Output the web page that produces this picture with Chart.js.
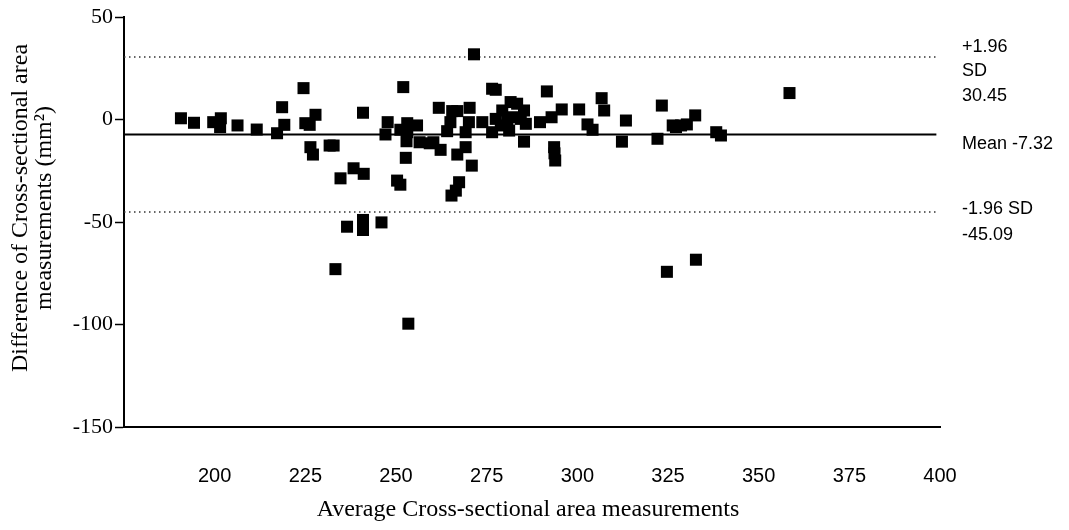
<!DOCTYPE html>
<html>
<head>
<meta charset="utf-8">
<script src="https://cdn.jsdelivr.net/npm/chart.js@4.4.1/dist/chart.umd.min.js"></script>
<style>
  html, body { margin: 0; padding: 0; background: #fff; }
  #wrap { width: 1069px; height: 530px; position: relative; }
</style>
</head>
<body>
<div id="wrap"><canvas id="chart-bland"></canvas></div>
<script>
// --- Data ---
const avgValues = [
  190.7, 194.3, 199.6, 201.7, 201.5, 206.3, 211.6, 217.2, 218.6, 219.2,
  224.5, 227.8, 225.0, 226.2, 226.4, 227.1, 231.7, 232.8, 234.7, 238.3,
  240.9, 241.1, 247.7, 247.1, 252.0, 250.3, 251.2, 252.7, 251.2, 253.1,
  252.9, 255.8, 256.5, 253.1, 259.3, 260.3, 262.3, 261.8, 265.5, 266.9,
  264.1, 265.0, 266.9, 267.4, 265.3, 266.5, 269.2, 270.9, 270.3, 269.2,
  270.1, 271.5, 273.8, 276.5, 277.5, 276.5, 279.3, 281.6, 283.4, 285.3,
  280.7, 282.5, 284.4, 285.8, 281.2, 278.9, 277.5, 285.3, 289.7, 291.6,
  292.9, 295.7, 293.6, 293.9, 293.7, 300.5, 306.7, 307.4, 302.8, 304.2,
  313.4, 312.3, 323.3, 322.1, 326.3, 327.2, 328.6, 330.2, 332.5, 338.3,
  339.6, 358.5, 236.5, 240.9, 240.9, 246.0, 233.3, 253.4, 332.7, 324.7
];
const diffValues = [
  0.6, -1.6, -1.3, 0.6, -3.7, -2.9, -4.9, -6.7, 6.0, -2.6,
  15.3, 2.3, -1.8, -2.6, -13.5, -17.1, -12.7, -12.7, -28.7, -23.8,
  3.3, -26.5, -1.3, -7.3, 15.8, -29.8, -31.8, -18.7, -5.0, -1.8,
  -10.6, -2.9, -11.1, -6.2, -11.6, -11.1, -14.8, 5.7, 4.1, 4.1,
  -5.7, -1.3, -17.1, -30.6, -37.1, -34.7, -13.5, -22.5, 5.7, -6.2,
  -1.3, 31.8, -1.3, 15.0, 14.5, -6.2, 4.4, 8.5, 7.7, 4.4,
  -0.5, 1.1, 0.3, -2.1, -5.4, -2.9, 0.3, -10.8, -1.3, 13.7,
  1.1, 4.9, -13.5, -20.0, -16.5, 4.9, 10.4, 4.4, -2.4, -5.0,
  -0.5, -10.8, 6.8, -9.4, -2.9, -3.7, -2.9, -2.4, 2.0, -6.2,
  -7.8, 12.9, -52.3, -49.0, -53.9, -50.2, -73.0, -99.6, -68.4, -74.3
];

const meanDiff = -7.32;
const upperLimit = 30.45;
const lowerLimit = -45.09;
const lineRange = [175, 399];   // x extent of the reference lines

const xTicks = [200, 225, 250, 275, 300, 325, 350, 375, 400];
const yTicks = [50, 0, -50, -100, -150];

const yTitle = ['Difference of Cross-sectional area', 'measurements (mm\u00B2)'];
const xTitle = 'Average Cross-sectional area measurements';
const limitLabels = [
  { y: 47, text: '+1.96' },
  { y: 71, text: 'SD' },
  { y: 96, text: '30.45' },
  { y: 144, text: 'Mean -7.32' },
  { y: 209, text: '-1.96 SD' },
  { y: 235, text: '-45.09' }
];

// --- Helpers ---
const points = avgValues.map((x, i) => ({ x: x, y: diffValues[i] }));
const hLine = (v) => lineRange.map(x => ({ x: x, y: v }));

// text that is not part of the axes: titles + limit labels
const textPlugin = {
  id: 'extraText',
  afterDraw(chart) {
    const ctx = chart.ctx;
    ctx.save();
    ctx.fillStyle = '#000';

    // y title, two rotated lines
    ctx.font = "24px 'Liberation Serif', 'Times New Roman', serif";
    ctx.textAlign = 'center';
    ctx.textBaseline = 'middle';
    ctx.save();
    ctx.translate(21, 208);
    ctx.rotate(-Math.PI / 2);
    ctx.fillText(yTitle[0], 0, 0);
    ctx.restore();
    ctx.save();
    ctx.translate(45, 208);
    ctx.rotate(-Math.PI / 2);
    ctx.fillText(yTitle[1], 0, 0);
    ctx.restore();

    // x title
    ctx.fillText(xTitle, 528, 510);

    // limit labels on the right
    ctx.font = "18px 'Liberation Sans', Arial, sans-serif";
    ctx.textAlign = 'left';
    limitLabels.forEach(l => ctx.fillText(l.text, 962, l.y));
    ctx.restore();
  }
};

const ctx = document.getElementById('chart-bland').getContext('2d');
new Chart(ctx, {
  type: 'scatter',
  data: {
    datasets: [
      { label: 'Differences', data: points, pointStyle: 'rect', pointRadius: 8.5, pointHoverRadius: 8.5,
        backgroundColor: '#000', borderColor: '#000', borderWidth: 0, order: 1 },
      { label: 'Mean', type: 'line', data: hLine(meanDiff), borderColor: '#000', borderWidth: 2,
        pointRadius: 0, fill: false, order: 2 },
      { label: '+1.96 SD', type: 'line', data: hLine(upperLimit), borderColor: '#333', borderWidth: 1.5,
        borderDash: [1.5, 3.5], pointRadius: 0, fill: false, order: 2 },
      { label: '-1.96 SD', type: 'line', data: hLine(lowerLimit), borderColor: '#333', borderWidth: 1.5,
        borderDash: [1.5, 3.5], pointRadius: 0, fill: false, order: 2 }
    ]
  },
  options: {
    responsive: true, maintainAspectRatio: false, animation: false,
    layout: { padding: { left: 0, right: 129, top: 17, bottom: 0 } },
    plugins: { legend: { display: false }, tooltip: { enabled: false } },
    scales: {
      x: {
        type: 'linear', min: 175, max: 400,
        afterFit: (s) => { s.height = 103; },
        afterBuildTicks: (s) => { s.ticks = xTicks.map(v => ({ value: v })); },
        grid: { display: false },
        border: { color: '#000', width: 2 },
        ticks: { color: '#000', padding: 29, maxRotation: 0, autoSkip: false,
                 font: { family: "'Liberation Sans Narrow', 'Liberation Sans', Arial, sans-serif", size: 20 } }
      },
      y: {
        type: 'linear', min: -150, max: 50,
        afterFit: (s) => { s.width = 124; },
        afterBuildTicks: (s) => { s.ticks = yTicks.map(v => ({ value: v })); },
        grid: { drawOnChartArea: false, drawTicks: true, tickLength: 9, tickColor: '#000', tickWidth: 1.5 },
        border: { color: '#000', width: 2 },
        ticks: { color: '#000', padding: 2,
                 font: { family: "'Liberation Serif', 'Times New Roman', serif", size: 22 } }
      }
    }
  },
  plugins: [textPlugin]
});
</script>
</body>
</html>
